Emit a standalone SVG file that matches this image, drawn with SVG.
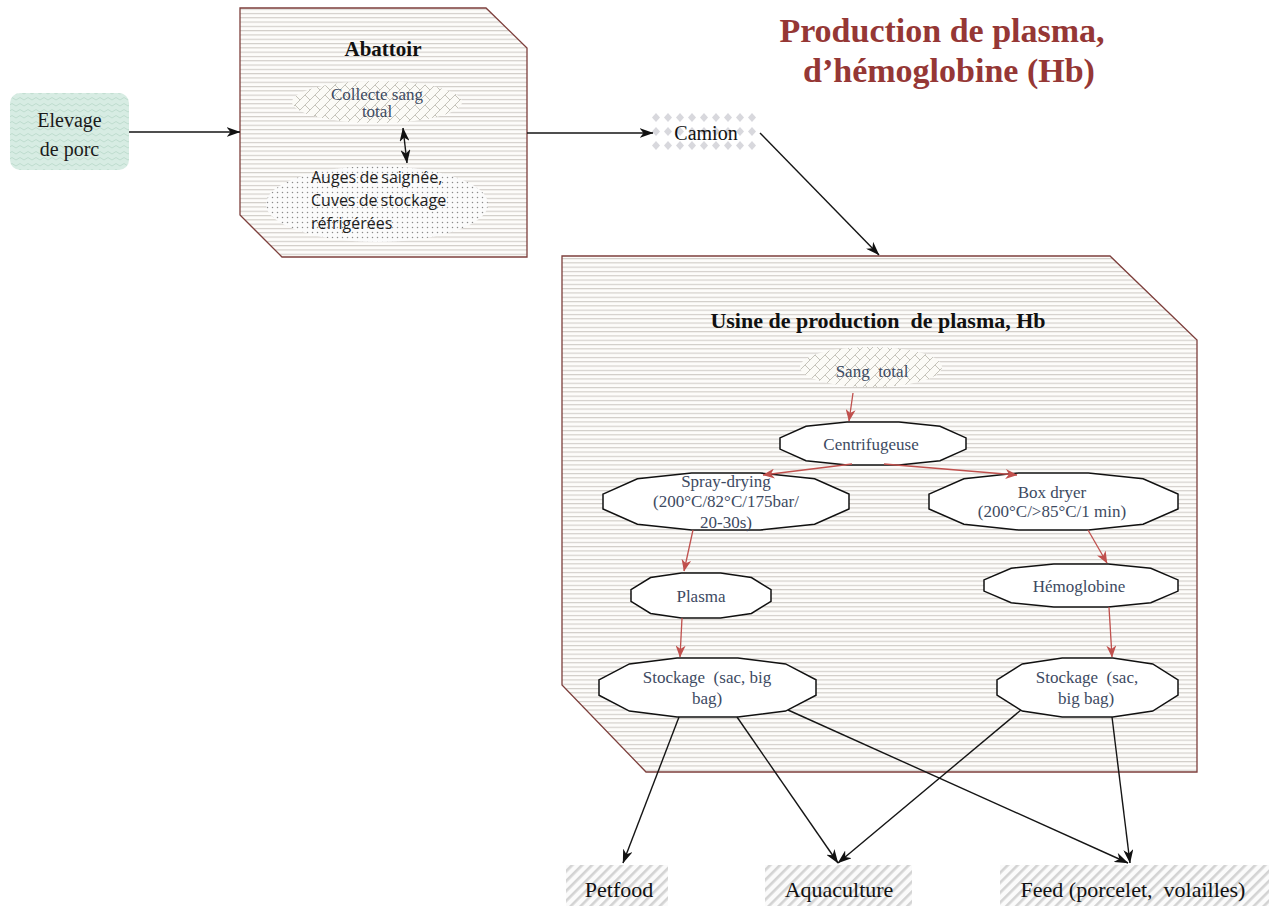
<svg xmlns="http://www.w3.org/2000/svg" width="1269" height="906" viewBox="0 0 1269 906">
  <defs>
    <style>
      .serif { font-family: "Liberation Serif", "Times New Roman", serif; }
      .sans { font-family: "Open Sans", "Liberation Sans", sans-serif; }
      .inner { font-size: 17px; fill: #3d4a62; text-anchor: middle; }
      .oct { fill: #ffffff; stroke: #111111; stroke-width: 1.5; }
      .zone { fill: url(#hLines); stroke: #7d3f3c; stroke-width: 1.3; }
      .out { font-size: 22px; fill: #111111; text-anchor: middle; }
      .blk { stroke: #151515; stroke-width: 1.4; fill: none; marker-end: url(#ahBlack); }
      .red { stroke: #c0504d; stroke-width: 1.3; fill: none; marker-end: url(#ahRed); }
    </style>

    <!-- fine horizontal ruling used inside the two site outlines -->
    <pattern id="hLines" width="8" height="4.3" patternUnits="userSpaceOnUse">
      <rect width="8" height="4.3" fill="#fdfcfa"/>
      <line x1="0" y1="0.6" x2="8" y2="0.6" stroke="#cbc7c2" stroke-width="1"/>
    </pattern>
    <!-- soft green zigzag -->
    <pattern id="zigzag" width="8" height="6" patternUnits="userSpaceOnUse">
      <rect width="8" height="6" fill="#d7ece3"/>
      <path d="M0,4 L4,1.5 L8,4" fill="none" stroke="#bfdccf" stroke-width="1"/>
    </pattern>
    <!-- small dot grid -->
    <pattern id="dots" width="5" height="5" patternUnits="userSpaceOnUse">
      <rect width="5" height="5" fill="#fbfbfb"/>
      <circle cx="2.5" cy="2.5" r="0.75" fill="#8c8c8c"/>
    </pattern>
    <!-- diagonal brick hatch -->
    <pattern id="brick" width="10" height="10" patternUnits="userSpaceOnUse">
      <rect width="10" height="10" fill="#fbfaf6"/>
      <path d="M0,10 L10,0 M-1,1 L1,-1 M9,11 L11,9 M5,5 L10,10" stroke="#b8b5ab" stroke-width="0.8" fill="none"/>
    </pattern>
    <!-- gray diamond dots -->
    <pattern id="diamonds" x="650" y="111" width="12" height="14" patternUnits="userSpaceOnUse">
      <rect width="12" height="14" fill="#ffffff"/>
      <path d="M6,2 L10,6.5 L6,11 L2,6.5 z" fill="#d8d8dd"/>
    </pattern>
    <!-- wide diagonal stripes -->
    <pattern id="stripes" width="7" height="7" patternUnits="userSpaceOnUse" patternTransform="rotate(45)">
      <rect width="7" height="7" fill="#fbfbfb"/>
      <rect width="2.6" height="7" fill="#d3d3d3"/>
    </pattern>

    <marker id="ahBlack" viewBox="0 0 14 10" refX="13.5" refY="5" markerWidth="14" markerHeight="10" markerUnits="userSpaceOnUse" orient="auto-start-reverse">
      <path d="M0,0 L14,5 L0,10 L4,5 z" fill="#111111"/>
    </marker>
    <marker id="ahRed" viewBox="0 0 12 10" refX="11.5" refY="5" markerWidth="12" markerHeight="10" markerUnits="userSpaceOnUse" orient="auto">
      <path d="M0,0 L12,5 L0,10 L3.5,5 z" fill="#c0504d"/>
    </marker>
  </defs>

  <rect width="1269" height="906" fill="#ffffff"/>

  <!-- heading -->
  <g id="title" class="serif" font-weight="bold" font-size="34" fill="#953735" text-anchor="middle">
    <text x="942" y="42">Production de plasma,</text>
    <text x="949" y="82">d’hémoglobine (Hb)</text>
  </g>

  <!-- farm -->
  <g id="elevage">
    <rect x="10" y="93" width="119" height="77" rx="10" fill="url(#zigzag)"/>
    <text class="serif" x="69.5" y="127" font-size="20" fill="#1a1a1a" text-anchor="middle">Elevage</text>
    <text class="serif" x="69.5" y="156" font-size="20" fill="#1a1a1a" text-anchor="middle">de porc</text>
  </g>

  <!-- slaughterhouse -->
  <g id="abattoir">
    <path class="zone" d="M240,8 L486,8 L527,48 L527,257 L282,257 L240,215 Z"/>
    <text class="serif" x="383" y="56" font-size="21" font-weight="bold" fill="#111111" text-anchor="middle">Abattoir</text>
  </g>
  <g id="collecte">
    <ellipse cx="377" cy="102" rx="85" ry="21" fill="url(#brick)"/>
    <text class="serif inner" x="377" y="100" font-size="15">Collecte sang</text>
    <text class="serif inner" x="377" y="117" font-size="15">total</text>
  </g>
  <g id="auges">
    <ellipse cx="377" cy="204" rx="111" ry="38" fill="url(#dots)"/>
    <g class="sans" font-size="16" fill="#1e1e1e" word-spacing="-1">
      <text x="311" y="183">Auges de saignée,</text>
      <text x="311" y="206">Cuves de stockage</text>
      <text x="311" y="229">réfrigérées</text>
    </g>
  </g>

  <!-- truck -->
  <g id="camion">
    <rect x="650" y="111" width="108" height="42" fill="url(#diamonds)"/>
    <text class="serif" x="706" y="140" font-size="20" fill="#111111" text-anchor="middle">Camion</text>
  </g>

  <!-- processing plant -->
  <g id="usine">
    <path class="zone" d="M562,256 L1110,256 L1197,340 L1197,772 L646,772 L562,685 Z"/>
    <text class="serif" x="878" y="328" font-size="22" font-weight="bold" fill="#111111" text-anchor="middle" xml:space="preserve">Usine de production  de plasma, Hb</text>
  </g>
  <g id="sang-total">
    <ellipse cx="871" cy="367" rx="71" ry="20" fill="url(#brick)"/>
    <text class="serif inner" x="872" y="377" xml:space="preserve">Sang  total</text>
  </g>
  <g id="centrifugeuse">
    <polygon class="oct" points="780,437.9 806,426.3 847,422 899,422 940,426.3 966,437.9 966,449.1 940,460.7 899,465 847,465 806,460.7 780,449.1"/>
    <text class="serif inner" x="871" y="450">Centrifugeuse</text>
  </g>
  <g id="spray-drying">
    <polygon class="oct" points="603,494.1 637.4,478.7 691.6,473 760.4,473 814.6,478.7 849,494.1 849,508.9 814.6,524.3 760.4,530 691.6,530 637.4,524.3 603,508.9"/>
    <text class="serif inner" x="726" y="487">Spray-drying</text>
    <text class="serif inner" x="726" y="507">(200°C/82°C/175bar/</text>
    <text class="serif inner" x="726" y="528">20-30s)</text>
  </g>
  <g id="box-dryer">
    <polygon class="oct" points="929,494.1 963.9,478.7 1018.6,473 1088.4,473 1143.1,478.7 1178,494.1 1178,508.9 1143.1,524.3 1088.4,530 1018.6,530 963.9,524.3 929,508.9"/>
    <text class="serif inner" x="1052" y="498">Box dryer</text>
    <text class="serif inner" x="1052" y="517">(200°C/&gt;85°C/1 min)</text>
  </g>
  <g id="plasma">
    <polygon class="oct" points="631,589.65 650.6,577.5 681.4,573 720.6,573 751.4,577.5 771,589.65 771,601.35 751.4,613.5 720.6,618 681.4,618 650.6,613.5 631,601.35"/>
    <text class="serif inner" x="701" y="602">Plasma</text>
  </g>
  <g id="hemoglobine">
    <polygon class="oct" points="984,579.9 1011.2,568.3 1053.8,564 1108.2,564 1150.8,568.3 1178,579.9 1178,591.1 1150.8,602.7 1108.2,607 1053.8,607 1011.2,602.7 984,591.1"/>
    <text class="serif inner" x="1079" y="592">Hémoglobine</text>
  </g>
  <g id="stockage-plasma">
    <polygon class="oct" points="599,679.8 629.4,663.9 677.1,658 737.9,658 785.6,663.9 816,679.8 816,695.2 785.6,711.1 737.9,717 677.1,717 629.4,711.1 599,695.2"/>
    <text class="serif inner" x="707" y="683" xml:space="preserve">Stockage  (sac, big</text>
    <text class="serif inner" x="707" y="704">bag)</text>
  </g>
  <g id="stockage-hb">
    <polygon class="oct" points="997,679.8 1022.3,663.9 1062.2,658 1112.8,658 1152.7,663.9 1178,679.8 1178,695.2 1152.7,711.1 1112.8,717 1062.2,717 1022.3,711.1 997,695.2"/>
    <text class="serif inner" x="1087" y="683" xml:space="preserve">Stockage  (sac,</text>
    <text class="serif inner" x="1086" y="704">big bag)</text>
  </g>

  <!-- outlets -->
  <g id="petfood">
    <rect x="566" y="865" width="102" height="41" fill="url(#stripes)"/>
    <text class="serif out" x="619" y="897">Petfood</text>
  </g>
  <g id="aquaculture">
    <rect x="765" y="865" width="147" height="41" fill="url(#stripes)"/>
    <text class="serif out" x="839" y="897">Aquaculture</text>
  </g>
  <g id="feed">
    <rect x="1000" y="865" width="269" height="41" fill="url(#stripes)"/>
    <text class="serif out" x="1133" y="897" xml:space="preserve">Feed (porcelet,  volailles)</text>
  </g>

  <!-- connectors -->
  <g id="connectors">
    <line class="blk" x1="129" y1="132" x2="240" y2="132"/>
    <line class="blk" x1="403" y1="128" x2="407" y2="163" marker-start="url(#ahBlack)"/>
    <line class="blk" x1="527" y1="133" x2="653" y2="133"/>
    <line class="blk" x1="760" y1="133" x2="879" y2="255"/>

    <line class="red" x1="853" y1="393" x2="849" y2="421"/>
    <line class="red" x1="852" y1="464" x2="763" y2="475"/>
    <line class="red" x1="884" y1="464" x2="1017" y2="475"/>
    <line class="red" x1="693" y1="530" x2="684" y2="571"/>
    <line class="red" x1="1088" y1="530" x2="1107" y2="563"/>
    <line class="red" x1="682" y1="618" x2="680" y2="657"/>
    <line class="red" x1="1109" y1="607" x2="1112" y2="657"/>

    <line class="blk" x1="679" y1="717" x2="623" y2="863"/>
    <line class="blk" x1="737" y1="717" x2="838" y2="863"/>
    <line class="blk" x1="788" y1="710" x2="1128" y2="863"/>
    <line class="blk" x1="1021" y1="710" x2="838" y2="863"/>
    <line class="blk" x1="1112" y1="717" x2="1130" y2="863"/>
  </g>
</svg>
